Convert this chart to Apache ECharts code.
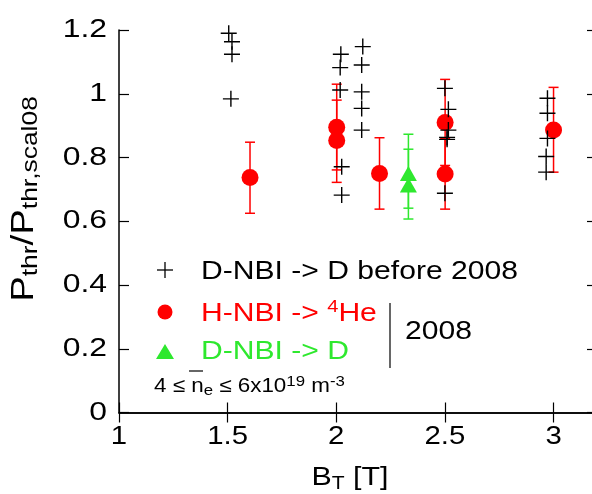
<!DOCTYPE html>
<html><head><meta charset="utf-8">
<script src="https://cdn.jsdelivr.net/npm/echarts@6/dist/echarts.min.js"></script>
<style>html,body{margin:0;padding:0;background:#fff}#c{width:592px;height:494px}</style>
</head><body><div id="c"></div>
<script>
// D-NBI -> D before 2008 (black crosses)
const crossX = [1.505, 1.52, 1.52, 1.515, 2.021, 2.018, 2.018, 2.025, 2.025, 2.122, 2.117, 2.117, 2.117, 2.117, 2.50, 2.516, 2.516, 2.51, 2.51, 2.50, 2.972, 2.972, 2.972, 2.966, 2.966];
const crossY = [1.19, 1.163, 1.124, 0.984, 1.124, 1.082, 1.012, 0.771, 0.682, 1.148, 1.090, 1.006, 0.954, 0.886, 1.017, 0.951, 0.886, 0.863, 0.857, 0.688, 0.986, 0.939, 0.860, 0.803, 0.754];
// H-NBI -> 4He 2008 (red circles)
const heX = [1.603, 2.002, 2.002, 2.199, 2.501, 2.501, 3.0];
const heY = [0.737, 0.895, 0.853, 0.750, 0.910, 0.748, 0.886];
const heLo = [0.625, 0.761, 0.722, 0.638, 0.775, 0.638, 0.754];
const heHi = [0.848, 1.030, 0.980, 0.862, 1.045, 0.860, 1.020];
// D-NBI -> D 2008 (green triangles)
const dX = [2.332, 2.332];
const dY = [0.750, 0.714];
const dLo = [0.641, 0.607];
const dHi = [0.873, 0.826];
// axis ticks
const xTicks = [1, 1.5, 2, 2.5, 3];
const xTickLabels = ['1', '1.5', '2', '2.5', '3'];
const yTicks = [0, 0.2, 0.4, 0.6, 0.8, 1, 1.2];
const yTickLabels = ['0', '0.2', '0.4', '0.6', '0.8', '1', '1.2'];

const RED = '#ff0000', GREEN = '#2ee82e';
const FONT = 'Liberation Sans, Arial, sans-serif';
const chart = echarts.init(document.getElementById('c'));

function errBar(color) {
  return function (params, api) {
    const x = api.value(0), lo = api.value(1), hi = api.value(2);
    const p1 = api.coord([x, lo]), p2 = api.coord([x, hi]);
    const w = 5;
    const st = { stroke: color, lineWidth: 1.5 };
    return { type: 'group', children: [
      { type: 'line', shape: { x1: p1[0], y1: p1[1], x2: p2[0], y2: p2[1] }, style: st },
      { type: 'line', shape: { x1: p1[0] - w, y1: p1[1], x2: p1[0] + w, y2: p1[1] }, style: st },
      { type: 'line', shape: { x1: p2[0] - w, y1: p2[1], x2: p2[0] + w, y2: p2[1] }, style: st }
    ] };
  };
}
const zip2 = (a, b) => a.map((v, i) => [v, b[i]]);
const zip3 = (a, b, c) => a.map((v, i) => [v, b[i], c[i]]);
const crossPath = 'path://M0,7.3h16v1.4h-16zM7.3,0h1.4v16h-1.4z';

const axisCommon = {
  type: 'value',
  axisLine: { show: true, lineStyle: { color: '#000', width: 1.5 } },
  axisTick: { show: true, inside: true, length: 10, lineStyle: { color: '#000', width: 1.2 } },
  axisLabel: { show: false },
  splitLine: { show: false }
};

const staticGraphics = [
  // y-axis title
  { type: 'text', x: 24, y: 199, rotation: Math.PI / 2, scaleX: 1.2,
    style: { text: '{b|P}{s|thr}{b|/P}{s|thr,scal08}', align: 'center', verticalAlign: 'middle', fill: '#000',
      rich: { b: { fontSize: 32, fontFamily: FONT, lineHeight: 36, fill: '#000' },
              s: { fontSize: 22, fontFamily: FONT, lineHeight: 22, verticalAlign: 'bottom', fill: '#000' } } } },
  // x-axis title
  { type: 'text', x: 350, y: 478, scaleX: 1.17,
    style: { text: '{b|B}{s|T}{b| [T]}', align: 'center', verticalAlign: 'middle', fill: '#000',
      rich: { b: { fontSize: 26, fontFamily: FONT, lineHeight: 30, fill: '#000' },
              s: { fontSize: 18, fontFamily: FONT, lineHeight: 18, verticalAlign: 'bottom', fill: '#000' } } } },
  // legend markers
  { type: 'line', shape: { x1: 157, y1: 270, x2: 173, y2: 270 }, style: { stroke: '#000', lineWidth: 1.3 } },
  { type: 'line', shape: { x1: 165, y1: 262, x2: 165, y2: 278 }, style: { stroke: '#000', lineWidth: 1.3 } },
  { type: 'circle', shape: { cx: 165, cy: 312, r: 7.5 }, style: { fill: RED } },
  { type: 'polygon', shape: { points: [[165, 344], [174, 359], [156, 359]] }, style: { fill: GREEN } },
  { type: 'line', shape: { x1: 390, y1: 303, x2: 390, y2: 368 }, style: { stroke: '#000', lineWidth: 1.2 } },
  { type: 'line', shape: { x1: 189, y1: 371, x2: 203, y2: 371 }, style: { stroke: '#000', lineWidth: 1.2 } },
  { type: 'text', x: 201, y: 272, scaleX: 1.18, style: { text: 'D-NBI -> D before 2008', fontSize: 25.5, fontFamily: FONT, fill: '#000', verticalAlign: 'middle' } },
  { type: 'text', x: 201, y: 314, scaleX: 1.18,
    style: { text: '{r|H-NBI -> }{sp|4}{r|He}', verticalAlign: 'middle',
      rich: { r: { fontSize: 25.5, fontFamily: FONT, fill: RED, lineHeight: 30 },
              sp: { fontSize: 17, fontFamily: FONT, fill: RED, lineHeight: 17, verticalAlign: 'top' } } } },
  { type: 'text', x: 201, y: 352, scaleX: 1.18, style: { text: 'D-NBI -> D', fontSize: 25.5, fontFamily: FONT, fill: GREEN, verticalAlign: 'middle' } },
  { type: 'text', x: 405, y: 332, scaleX: 1.18, style: { text: '2008', fontSize: 25.5, fontFamily: FONT, fill: '#000', verticalAlign: 'middle' } },
  { type: 'text', x: 154, y: 386, scaleX: 1.12,
    style: { text: '{n|4 ≤ n}{s|e}{n| ≤ 6x10}{p|19}{n| m}{p|-3}', verticalAlign: 'middle',
      rich: { n: { fontSize: 20, fontFamily: FONT, fill: '#000', lineHeight: 24 },
              s: { fontSize: 15, fontFamily: FONT, fill: '#000', lineHeight: 15, verticalAlign: 'bottom' },
              p: { fontSize: 15, fontFamily: FONT, fill: '#000', lineHeight: 15, verticalAlign: 'top' } } } }
];

chart.setOption({
  animation: false,
  grid: { left: 119, top: 30, width: 478, height: 382.5, containLabel: false, outerBoundsMode: 'none' },
  xAxis: [
    Object.assign({}, axisCommon, { min: 1, max: 3.2, interval: 0.5, position: 'bottom' }),
    Object.assign({}, axisCommon, { min: 1, max: 3.2, interval: 0.5, position: 'top' })
  ],
  yAxis: [
    Object.assign({}, axisCommon, { min: 0, max: 1.2, interval: 0.2, position: 'left' }),
    Object.assign({}, axisCommon, { min: 0, max: 1.2, interval: 0.2, position: 'right' })
  ],
  series: [
    { type: 'custom', renderItem: errBar(RED), data: zip3(heX, heLo, heHi), encode: { x: 0, y: [1, 2] }, z: 2 },
    { type: 'custom', renderItem: errBar(GREEN), data: zip3(dX, dLo, dHi), encode: { x: 0, y: [1, 2] }, z: 2 },
    { type: 'scatter', data: zip2(heX, heY), symbol: 'circle', symbolSize: 17, itemStyle: { color: RED, opacity: 1 }, z: 3 },
    { type: 'scatter', data: zip2(dX, dY), symbol: 'triangle', symbolSize: [17, 15], itemStyle: { color: GREEN, opacity: 1 }, z: 3 },
    { type: 'scatter', data: zip2(crossX, crossY), symbol: crossPath, symbolSize: 16, itemStyle: { color: '#000', opacity: 1 }, z: 4 }
  ]
});

// Tick labels placed through the axes' own scales
const tickGraphics = [];
xTicks.forEach((v, i) => {
  const p = chart.convertToPixel({ xAxisIndex: 0, yAxisIndex: 0 }, [v, 0]);
  tickGraphics.push({ type: 'text', x: p[0], y: p[1] + 24, scaleX: 1.15,
    style: { text: xTickLabels[i], fontSize: 25.5, fontFamily: FONT, fill: '#000', align: 'center', verticalAlign: 'middle' } });
});
yTicks.forEach((v, i) => {
  const p = chart.convertToPixel({ xAxisIndex: 0, yAxisIndex: 0 }, [1, v]);
  tickGraphics.push({ type: 'text', x: p[0] - 12, y: p[1], scaleX: 1.25,
    style: { text: yTickLabels[i], fontSize: 25.5, fontFamily: FONT, fill: '#000', align: 'right', verticalAlign: 'middle' } });
});
chart.setOption({ graphic: staticGraphics.concat(tickGraphics) });
</script></body></html>
